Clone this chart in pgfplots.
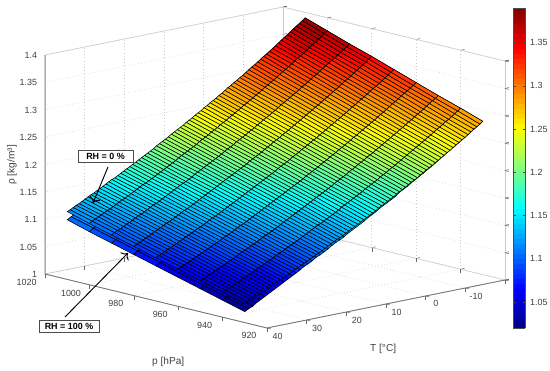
\documentclass[border=0pt]{standalone}
\usepackage{pgfplots}
\pgfplotsset{compat=1.18}
\usetikzlibrary{arrows.meta}
\usepackage{fontspec}
\setmainfont{Liberation Sans}
\begin{document}
\begin{tikzpicture}
\begin{axis}[
  x={(-1.665pt,0.405pt)}, y={(-2.975pt,-0.6pt)}, z={(0pt,410.6pt)},
  xmin=920,xmax=1020,ymin=-20,ymax=40,zmin=1,zmax=1.4,
  xtick={920,940,...,1020}, ytick={-10,0,...,40}, ztick={1,1.05,1.1,1.15,1.2,1.25,1.3,1.35,1.4},
  xtick pos=lower, ytick pos=lower, ztick pos=left,
  /pgf/number format/assume math mode=true,
  /pgf/number format/fixed,
  tick label style={font=\fontsize{6.7pt}{8pt}\selectfont,text=black!75},
  label style={font=\fontsize{7.6pt}{9pt}\selectfont,text=black!75},
  xticklabel style={/pgf/number format/1000 sep={},xshift=-5pt,yshift=1.5pt},
  yticklabel style={yshift=1pt},
  zticklabel style={xshift=.5pt},
  colormap/jet, point meta min=1.02, point meta max=1.39,
  grid=major, grid style={gray!40,dotted,line width=.5pt},
  axis line style={gray!40,line width=.5pt},
  tick style={black!60,line width=.4pt},
  tick align=outside, major tick length=3pt,
  clip=false,
  xlabel={p [hPa]}, x label style={at={(axis cs:905.7,72.9,1)},anchor=center,rotate=0},
  ylabel={T [°C]}, y label style={at={(axis cs:875,35.9,1)},anchor=center,rotate=0},
  zlabel={ρ [kg/m³]}, z label style={at={(axis cs:1034.9,40,1.1845)},anchor=center,rotate=0},
  colorbar, colorbar sampled,
  colorbar style={samples=65, at={(parent axis.north east)},anchor=north west,xshift=-2.25pt,yshift=-.75pt,
    width=9pt,height=240pt, ytick={1.05,1.1,...,1.35}, ytick pos=both, yticklabel pos=right, tick align=inside,
    yticklabel style={font=\fontsize{6.7pt}{8pt}\selectfont,text=black!75,/pgf/number format/assume math mode=true},
    axis line style={black!70,line width=.5pt}, tick style={black!70}, major tick length=2pt},
]
\addplot3[surf, shader=faceted, faceted color=black, line width=.4pt, mesh/cols=9]
 table[row sep=crcr, header=false, x expr={930+10*mod(\coordindex,9)}, y expr={-20+floor((\coordindex+0.5)/9)}, z index=0] {
1.280\\1.294\\1.307\\1.321\\1.335\\1.349\\1.362\\1.376\\1.390\\
1.275\\1.288\\1.302\\1.316\\1.330\\1.343\\1.357\\1.371\\1.384\\
1.270\\1.283\\1.297\\1.311\\1.324\\1.338\\1.352\\1.365\\1.379\\
1.265\\1.278\\1.292\\1.306\\1.319\\1.333\\1.346\\1.360\\1.374\\
1.260\\1.273\\1.287\\1.301\\1.314\\1.328\\1.341\\1.355\\1.368\\
1.255\\1.268\\1.282\\1.296\\1.309\\1.322\\1.336\\1.349\\1.363\\
1.250\\1.264\\1.277\\1.291\\1.304\\1.317\\1.331\\1.344\\1.358\\
1.245\\1.259\\1.272\\1.286\\1.299\\1.312\\1.326\\1.339\\1.352\\
1.241\\1.254\\1.267\\1.281\\1.294\\1.307\\1.321\\1.334\\1.347\\
1.236\\1.249\\1.262\\1.276\\1.289\\1.302\\1.316\\1.329\\1.342\\
1.231\\1.244\\1.258\\1.271\\1.284\\1.297\\1.311\\1.324\\1.337\\
1.226\\1.239\\1.252\\1.265\\1.278\\1.291\\1.305\\1.318\\1.331\\
1.221\\1.234\\1.247\\1.260\\1.273\\1.287\\1.300\\1.313\\1.326\\
1.216\\1.229\\1.242\\1.256\\1.269\\1.282\\1.295\\1.308\\1.321\\
1.212\\1.225\\1.238\\1.251\\1.264\\1.277\\1.290\\1.303\\1.316\\
1.207\\1.220\\1.233\\1.246\\1.259\\1.272\\1.285\\1.298\\1.311\\
1.203\\1.216\\1.229\\1.242\\1.254\\1.267\\1.280\\1.293\\1.306\\
1.198\\1.211\\1.224\\1.237\\1.250\\1.263\\1.276\\1.289\\1.301\\
1.194\\1.207\\1.220\\1.232\\1.245\\1.258\\1.271\\1.284\\1.297\\
1.189\\1.202\\1.215\\1.228\\1.241\\1.253\\1.266\\1.279\\1.292\\
1.185\\1.198\\1.211\\1.223\\1.236\\1.249\\1.262\\1.274\\1.287\\
1.181\\1.193\\1.206\\1.219\\1.232\\1.244\\1.257\\1.270\\1.282\\
1.175\\1.188\\1.201\\1.213\\1.226\\1.239\\1.251\\1.264\\1.277\\
1.171\\1.184\\1.196\\1.209\\1.222\\1.234\\1.247\\1.260\\1.272\\
1.167\\1.180\\1.192\\1.205\\1.217\\1.230\\1.242\\1.255\\1.268\\
1.163\\1.175\\1.188\\1.200\\1.213\\1.225\\1.238\\1.250\\1.263\\
1.159\\1.171\\1.184\\1.196\\1.209\\1.221\\1.233\\1.246\\1.258\\
1.154\\1.167\\1.179\\1.192\\1.204\\1.217\\1.229\\1.242\\1.254\\
1.150\\1.163\\1.175\\1.188\\1.200\\1.212\\1.225\\1.237\\1.249\\
1.146\\1.159\\1.171\\1.183\\1.196\\1.208\\1.220\\1.233\\1.245\\
1.141\\1.154\\1.166\\1.178\\1.190\\1.203\\1.215\\1.227\\1.240\\
1.137\\1.149\\1.162\\1.174\\1.186\\1.199\\1.211\\1.223\\1.235\\
1.133\\1.145\\1.158\\1.170\\1.182\\1.194\\1.207\\1.219\\1.231\\
1.129\\1.141\\1.154\\1.166\\1.178\\1.190\\1.202\\1.214\\1.227\\
1.125\\1.137\\1.150\\1.162\\1.174\\1.186\\1.198\\1.210\\1.222\\
1.120\\1.132\\1.145\\1.157\\1.169\\1.181\\1.193\\1.205\\1.217\\
1.116\\1.129\\1.141\\1.153\\1.165\\1.177\\1.189\\1.201\\1.213\\
1.113\\1.125\\1.137\\1.149\\1.161\\1.173\\1.185\\1.197\\1.209\\
1.109\\1.121\\1.133\\1.145\\1.157\\1.169\\1.181\\1.193\\1.204\\
1.104\\1.116\\1.128\\1.140\\1.152\\1.164\\1.176\\1.187\\1.199\\
1.100\\1.112\\1.124\\1.136\\1.148\\1.160\\1.171\\1.183\\1.195\\
1.096\\1.108\\1.120\\1.132\\1.144\\1.156\\1.167\\1.179\\1.191\\
1.093\\1.104\\1.116\\1.128\\1.140\\1.152\\1.164\\1.175\\1.187\\
1.088\\1.100\\1.112\\1.123\\1.135\\1.147\\1.159\\1.170\\1.182\\
1.084\\1.096\\1.108\\1.119\\1.131\\1.143\\1.155\\1.166\\1.178\\
1.081\\1.092\\1.104\\1.116\\1.127\\1.139\\1.151\\1.162\\1.174\\
1.076\\1.088\\1.099\\1.111\\1.123\\1.134\\1.146\\1.158\\1.169\\
1.072\\1.084\\1.096\\1.107\\1.119\\1.130\\1.142\\1.154\\1.165\\
1.068\\1.079\\1.091\\1.103\\1.114\\1.126\\1.137\\1.149\\1.160\\
1.064\\1.076\\1.087\\1.099\\1.110\\1.122\\1.133\\1.145\\1.156\\
1.060\\1.071\\1.083\\1.094\\1.106\\1.117\\1.129\\1.140\\1.152\\
1.056\\1.068\\1.079\\1.091\\1.102\\1.113\\1.125\\1.136\\1.148\\
1.052\\1.063\\1.075\\1.086\\1.097\\1.109\\1.120\\1.132\\1.143\\
1.048\\1.060\\1.071\\1.082\\1.094\\1.105\\1.117\\1.128\\1.139\\
1.044\\1.055\\1.066\\1.078\\1.089\\1.101\\1.112\\1.123\\1.135\\
1.040\\1.052\\1.063\\1.074\\1.086\\1.097\\1.108\\1.120\\1.131\\
1.036\\1.047\\1.059\\1.070\\1.081\\1.092\\1.104\\1.115\\1.126\\
1.032\\1.043\\1.054\\1.065\\1.077\\1.088\\1.099\\1.110\\1.121\\
1.027\\1.038\\1.050\\1.061\\1.072\\1.083\\1.094\\1.106\\1.117\\
1.024\\1.035\\1.046\\1.057\\1.069\\1.080\\1.091\\1.102\\1.113\\
1.020\\1.031\\1.042\\1.053\\1.064\\1.075\\1.086\\1.097\\1.109\\
};
\addplot3[surf, shader=faceted, faceted color=black, line width=.4pt, mesh/cols=9]
 table[row sep=crcr, header=false, x expr={930+10*mod(\coordindex,9)}, y expr={-20+0.75*floor((\coordindex+0.5)/9)}, z index=0] {
1.280\\1.294\\1.307\\1.321\\1.335\\1.349\\1.362\\1.376\\1.390\\
1.276\\1.290\\1.303\\1.317\\1.331\\1.345\\1.358\\1.372\\1.386\\
1.272\\1.286\\1.300\\1.313\\1.327\\1.341\\1.354\\1.368\\1.382\\
1.269\\1.282\\1.296\\1.309\\1.323\\1.337\\1.350\\1.364\\1.378\\
1.265\\1.278\\1.292\\1.306\\1.319\\1.333\\1.346\\1.360\\1.374\\
1.261\\1.275\\1.288\\1.302\\1.315\\1.329\\1.342\\1.356\\1.370\\
1.257\\1.271\\1.284\\1.298\\1.311\\1.325\\1.339\\1.352\\1.366\\
1.254\\1.267\\1.281\\1.294\\1.308\\1.321\\1.335\\1.348\\1.362\\
1.250\\1.264\\1.277\\1.291\\1.304\\1.317\\1.331\\1.344\\1.358\\
1.247\\1.260\\1.273\\1.287\\1.300\\1.314\\1.327\\1.340\\1.354\\
1.243\\1.256\\1.270\\1.283\\1.296\\1.310\\1.323\\1.337\\1.350\\
1.239\\1.253\\1.266\\1.279\\1.293\\1.306\\1.319\\1.333\\1.346\\
1.236\\1.249\\1.262\\1.276\\1.289\\1.302\\1.316\\1.329\\1.342\\
1.232\\1.246\\1.259\\1.272\\1.285\\1.299\\1.312\\1.325\\1.338\\
1.229\\1.242\\1.255\\1.268\\1.282\\1.295\\1.308\\1.321\\1.335\\
1.225\\1.239\\1.252\\1.265\\1.278\\1.291\\1.304\\1.318\\1.331\\
1.222\\1.235\\1.248\\1.261\\1.274\\1.288\\1.301\\1.314\\1.327\\
1.218\\1.232\\1.245\\1.258\\1.271\\1.284\\1.297\\1.310\\1.323\\
1.215\\1.228\\1.241\\1.254\\1.267\\1.280\\1.293\\1.306\\1.320\\
1.212\\1.225\\1.238\\1.251\\1.264\\1.277\\1.290\\1.303\\1.316\\
1.208\\1.221\\1.234\\1.247\\1.260\\1.273\\1.286\\1.299\\1.312\\
1.205\\1.218\\1.231\\1.244\\1.257\\1.270\\1.283\\1.296\\1.308\\
1.201\\1.214\\1.227\\1.240\\1.253\\1.266\\1.279\\1.292\\1.305\\
1.198\\1.211\\1.224\\1.237\\1.250\\1.263\\1.276\\1.288\\1.301\\
1.195\\1.208\\1.221\\1.233\\1.246\\1.259\\1.272\\1.285\\1.298\\
1.192\\1.204\\1.217\\1.230\\1.243\\1.256\\1.268\\1.281\\1.294\\
1.188\\1.201\\1.214\\1.227\\1.239\\1.252\\1.265\\1.278\\1.291\\
1.185\\1.198\\1.211\\1.223\\1.236\\1.249\\1.261\\1.274\\1.287\\
1.182\\1.194\\1.207\\1.220\\1.233\\1.245\\1.258\\1.271\\1.283\\
1.179\\1.191\\1.204\\1.217\\1.229\\1.242\\1.255\\1.267\\1.280\\
1.175\\1.188\\1.201\\1.213\\1.226\\1.239\\1.251\\1.264\\1.276\\
1.172\\1.185\\1.197\\1.210\\1.223\\1.235\\1.248\\1.260\\1.273\\
1.169\\1.182\\1.194\\1.207\\1.219\\1.232\\1.244\\1.257\\1.270\\
1.166\\1.178\\1.191\\1.203\\1.216\\1.229\\1.241\\1.254\\1.266\\
1.163\\1.175\\1.188\\1.200\\1.213\\1.225\\1.238\\1.250\\1.263\\
1.160\\1.172\\1.185\\1.197\\1.209\\1.222\\1.234\\1.247\\1.259\\
1.156\\1.169\\1.181\\1.194\\1.206\\1.219\\1.231\\1.244\\1.256\\
1.153\\1.166\\1.178\\1.191\\1.203\\1.215\\1.228\\1.240\\1.253\\
1.150\\1.163\\1.175\\1.187\\1.200\\1.212\\1.225\\1.237\\1.249\\
1.147\\1.160\\1.172\\1.184\\1.197\\1.209\\1.221\\1.234\\1.246\\
1.144\\1.157\\1.169\\1.181\\1.193\\1.206\\1.218\\1.230\\1.243\\
1.141\\1.153\\1.166\\1.178\\1.190\\1.203\\1.215\\1.227\\1.239\\
1.138\\1.150\\1.163\\1.175\\1.187\\1.199\\1.212\\1.224\\1.236\\
1.135\\1.147\\1.160\\1.172\\1.184\\1.196\\1.208\\1.221\\1.233\\
1.132\\1.144\\1.157\\1.169\\1.181\\1.193\\1.205\\1.217\\1.230\\
1.129\\1.141\\1.154\\1.166\\1.178\\1.190\\1.202\\1.214\\1.227\\
1.126\\1.138\\1.151\\1.163\\1.175\\1.187\\1.199\\1.211\\1.223\\
1.123\\1.135\\1.148\\1.160\\1.172\\1.184\\1.196\\1.208\\1.220\\
1.120\\1.133\\1.145\\1.157\\1.169\\1.181\\1.193\\1.205\\1.217\\
1.118\\1.130\\1.142\\1.154\\1.166\\1.178\\1.190\\1.202\\1.214\\
1.115\\1.127\\1.139\\1.151\\1.163\\1.175\\1.187\\1.199\\1.211\\
1.112\\1.124\\1.136\\1.148\\1.160\\1.172\\1.184\\1.195\\1.207\\
1.109\\1.121\\1.133\\1.145\\1.157\\1.169\\1.181\\1.192\\1.204\\
1.106\\1.118\\1.130\\1.142\\1.154\\1.166\\1.177\\1.189\\1.201\\
1.103\\1.115\\1.127\\1.139\\1.151\\1.163\\1.174\\1.186\\1.198\\
1.100\\1.112\\1.124\\1.136\\1.148\\1.160\\1.171\\1.183\\1.195\\
1.098\\1.109\\1.121\\1.133\\1.145\\1.157\\1.169\\1.180\\1.192\\
1.095\\1.107\\1.118\\1.130\\1.142\\1.154\\1.166\\1.177\\1.189\\
1.092\\1.104\\1.116\\1.127\\1.139\\1.151\\1.163\\1.174\\1.186\\
1.089\\1.101\\1.113\\1.125\\1.136\\1.148\\1.160\\1.171\\1.183\\
1.087\\1.098\\1.110\\1.122\\1.133\\1.145\\1.157\\1.168\\1.180\\
1.084\\1.096\\1.107\\1.119\\1.131\\1.142\\1.154\\1.165\\1.177\\
1.081\\1.093\\1.104\\1.116\\1.128\\1.139\\1.151\\1.163\\1.174\\
1.079\\1.090\\1.102\\1.113\\1.125\\1.137\\1.148\\1.160\\1.171\\
1.076\\1.087\\1.099\\1.111\\1.122\\1.134\\1.145\\1.157\\1.168\\
1.073\\1.085\\1.096\\1.108\\1.119\\1.131\\1.142\\1.154\\1.166\\
1.070\\1.082\\1.094\\1.105\\1.117\\1.128\\1.140\\1.151\\1.163\\
1.068\\1.079\\1.091\\1.102\\1.114\\1.125\\1.137\\1.148\\1.160\\
1.065\\1.077\\1.088\\1.100\\1.111\\1.122\\1.134\\1.145\\1.157\\
1.063\\1.074\\1.085\\1.097\\1.108\\1.120\\1.131\\1.143\\1.154\\
1.060\\1.071\\1.083\\1.094\\1.106\\1.117\\1.128\\1.140\\1.151\\
1.057\\1.069\\1.080\\1.092\\1.103\\1.114\\1.126\\1.137\\1.148\\
1.055\\1.066\\1.077\\1.089\\1.100\\1.112\\1.123\\1.134\\1.146\\
1.052\\1.064\\1.075\\1.086\\1.097\\1.109\\1.120\\1.131\\1.143\\
1.050\\1.061\\1.072\\1.084\\1.095\\1.106\\1.117\\1.129\\1.140\\
1.047\\1.058\\1.070\\1.081\\1.092\\1.103\\1.115\\1.126\\1.137\\
1.045\\1.056\\1.067\\1.078\\1.090\\1.101\\1.112\\1.123\\1.134\\
1.042\\1.053\\1.065\\1.076\\1.087\\1.098\\1.109\\1.121\\1.132\\
1.040\\1.051\\1.062\\1.073\\1.084\\1.095\\1.107\\1.118\\1.129\\
1.037\\1.048\\1.059\\1.071\\1.082\\1.093\\1.104\\1.115\\1.126\\
1.035\\1.046\\1.057\\1.068\\1.079\\1.090\\1.101\\1.112\\1.124\\
};
\coordinate (O) at (axis cs:1020,40,1);
\end{axis}
\begin{scope}[shift={(O)},x=.75pt,y=-.75pt,shift={(-45,-274)}]
\draw[black!55,line width=.6pt] (45,55)--(45,274)--(267,328)--(505,280);
\node[draw=black!70,fill=white,line width=.5pt,inner sep=0pt,minimum width=41pt,minimum height=9pt,font=\fontsize{6.7pt}{8pt}\selectfont\bfseries] at (105.5,156) {RH = 0 \%};
\draw[-{To[scale=1.3]},line width=.7pt] (108,167)--(93,203);
\node[draw=black!70,fill=white,line width=.5pt,inner sep=0pt,minimum width=45pt,minimum height=9pt,font=\fontsize{6.7pt}{8pt}\selectfont\bfseries] at (69,326.5) {RH = 100 \%};
\draw[-{To[scale=1.3]},line width=.7pt] (65,317)--(128,253);
\pgfresetboundingbox
\useasboundingbox (0,0) rectangle (550,371);
\end{scope}
\end{tikzpicture}
\end{document}
